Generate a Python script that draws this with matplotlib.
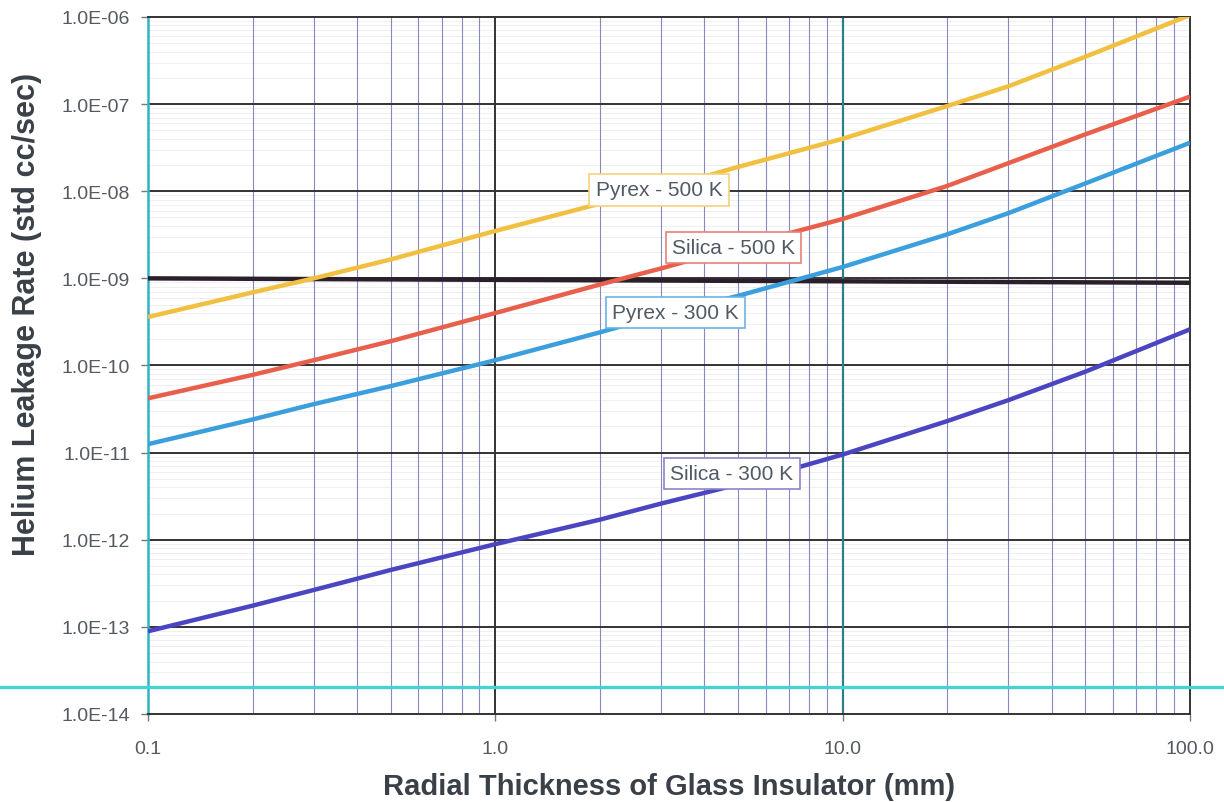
import numpy as np
import matplotlib
matplotlib.use("Agg")
from matplotlib import pyplot as plt
from matplotlib.lines import Line2D
from matplotlib.ticker import FixedLocator, FixedFormatter, NullFormatter

plt.rcParams['font.family'] = ['Liberation Sans', 'DejaVu Sans']

# thickness (mm) and leakage rates
thickness = [0.1, 0.2, 0.3, 0.5, 1.0, 2.0, 3.0, 5.0, 10.0, 20.0, 30.0, 50.0, 100.0]
pyrex_500 = [3.6e-10, 6.9e-10, 1.0e-9, 1.65e-9, 3.5e-9, 7.2e-9, 1.07e-8, 1.9e-8,
             4.0e-8, 9.5e-8, 1.6e-7, 3.5e-7, 1.05e-6]
silica_500 = [4.2e-11, 7.8e-11, 1.15e-10, 1.9e-10, 4.0e-10, 8.5e-10, 1.3e-9, 2.3e-9,
              4.8e-9, 1.15e-8, 2.1e-8, 4.5e-8, 1.22e-7]
pyrex_300 = [1.25e-11, 2.4e-11, 3.6e-11, 5.8e-11, 1.15e-10, 2.4e-10, 3.8e-10, 6.3e-10,
             1.35e-9, 3.2e-9, 5.6e-9, 1.23e-8, 3.6e-8]
silica_300 = [8.9e-14, 1.75e-13, 2.65e-13, 4.5e-13, 8.9e-13, 1.7e-12, 2.6e-12, 4.3e-12,
              9.5e-12, 2.3e-11, 4.0e-11, 8.5e-11, 2.6e-10]
limit_x = [0.1, 100.0]
limit_y = [1.0e-9, 8.9e-10]

xticks = [0.1, 1.0, 10.0, 100.0]
xtick_labels = ['0.1', '1.0', '10.0', '100.0']
yticks = [1e-14, 1e-13, 1e-12, 1e-11, 1e-10, 1e-9, 1e-8, 1e-7, 1e-6]
ytick_labels = ['1.0E-14', '1.0E-13', '1.0E-12', '1.0E-11', '1.0E-10',
                '1.0E-09', '1.0E-08', '1.0E-07', '1.0E-06']

series = [
    (pyrex_500, '#f1c040', 'Pyrex - 500 K', (0.4905, 0.752)),
    (silica_500, '#e8604c', 'Silica - 500 K', (0.562, 0.669)),
    (pyrex_300, '#3a9fdc', 'Pyrex - 300 K', (0.506, 0.576)),
    (silica_300, '#4b45c2', 'Silica - 300 K', (0.5605, 0.345)),
]
box_edges = ['#f3d27a', '#e8807a', '#6ab4e4', '#8a86c8']

fig = plt.figure(figsize=(12.24, 8.03), dpi=100)
ax = fig.add_axes([0.1209, 0.1096, 0.8513, 0.868])
ax.set_xscale('log')
ax.set_yscale('log')
ax.set_xlim(0.1, 100)
ax.set_ylim(1e-14, 1e-6)

# grid
minor_x = [m * d for d in (0.1, 1, 10) for m in range(2, 10)]
minor_y = [m * 10.0 ** e for e in range(-14, -6) for m in range(2, 10)]
for v in minor_y:
    ax.axhline(v, color='#ececf2', lw=0.6, zorder=0)
for v in minor_x:
    ax.axvline(v, color='#8a88c0', lw=0.8, zorder=0.5)
for v in yticks[1:-1]:
    ax.axhline(v, color='#333333', lw=1.4, zorder=1)
ax.axvline(1.0, color='#333333', lw=1.4, zorder=1)
ax.axvline(10.0, color='#2f7f88', lw=1.6, zorder=1)

ax.plot(limit_x, limit_y, color='#2b1f2b', lw=3.2, zorder=3)
for (vals, col, name, pos), ec in zip(series, box_edges):
    ax.plot(thickness, vals, color=col, lw=3.2, zorder=3, solid_capstyle='butt')
    ax.text(pos[0], pos[1], name, transform=ax.transAxes, ha='center', va='center',
            fontsize=15, color='#505a66', zorder=5,
            bbox=dict(boxstyle='square,pad=0.3', fc='white', ec=ec, lw=1.2))

for s in ['top', 'right', 'bottom']:
    ax.spines[s].set_color('#333333')
    ax.spines[s].set_linewidth(1.4)
ax.spines['left'].set_color('#2fb3c0')
ax.spines['left'].set_linewidth(1.8)

ax.xaxis.set_major_locator(FixedLocator(xticks))
ax.xaxis.set_major_formatter(FixedFormatter(xtick_labels))
ax.xaxis.set_minor_formatter(NullFormatter())
ax.yaxis.set_major_locator(FixedLocator(yticks))
ax.yaxis.set_major_formatter(FixedFormatter(ytick_labels))
ax.yaxis.set_minor_formatter(NullFormatter())
ax.tick_params(which='minor', length=0)
ax.tick_params(which='major', length=5, width=1, color='#777777',
               labelsize=14, labelcolor='#555a60', pad=8)
ax.tick_params(axis='x', which='major', pad=14)

ax.set_xlabel('Radial Thickness of Glass Insulator (mm)', fontsize=21,
              fontweight='bold', color='#3a4048', va='center')
ax.xaxis.set_label_coords(0.5, -0.103)
ax.set_ylabel('Helium Leakage Rate (std cc/sec)', fontsize=22,
              fontweight='bold', color='#3a4048', va='center', ha='center')
ax.yaxis.set_label_coords(-0.116, 0.574)

# scanner line across the page
fig.add_artist(Line2D([0, 1], [0.1432, 0.1432], transform=fig.transFigure,
                      color='#45d2d2', lw=2.4, zorder=10))

fig.savefig('out.png', dpi=100, facecolor='white')
